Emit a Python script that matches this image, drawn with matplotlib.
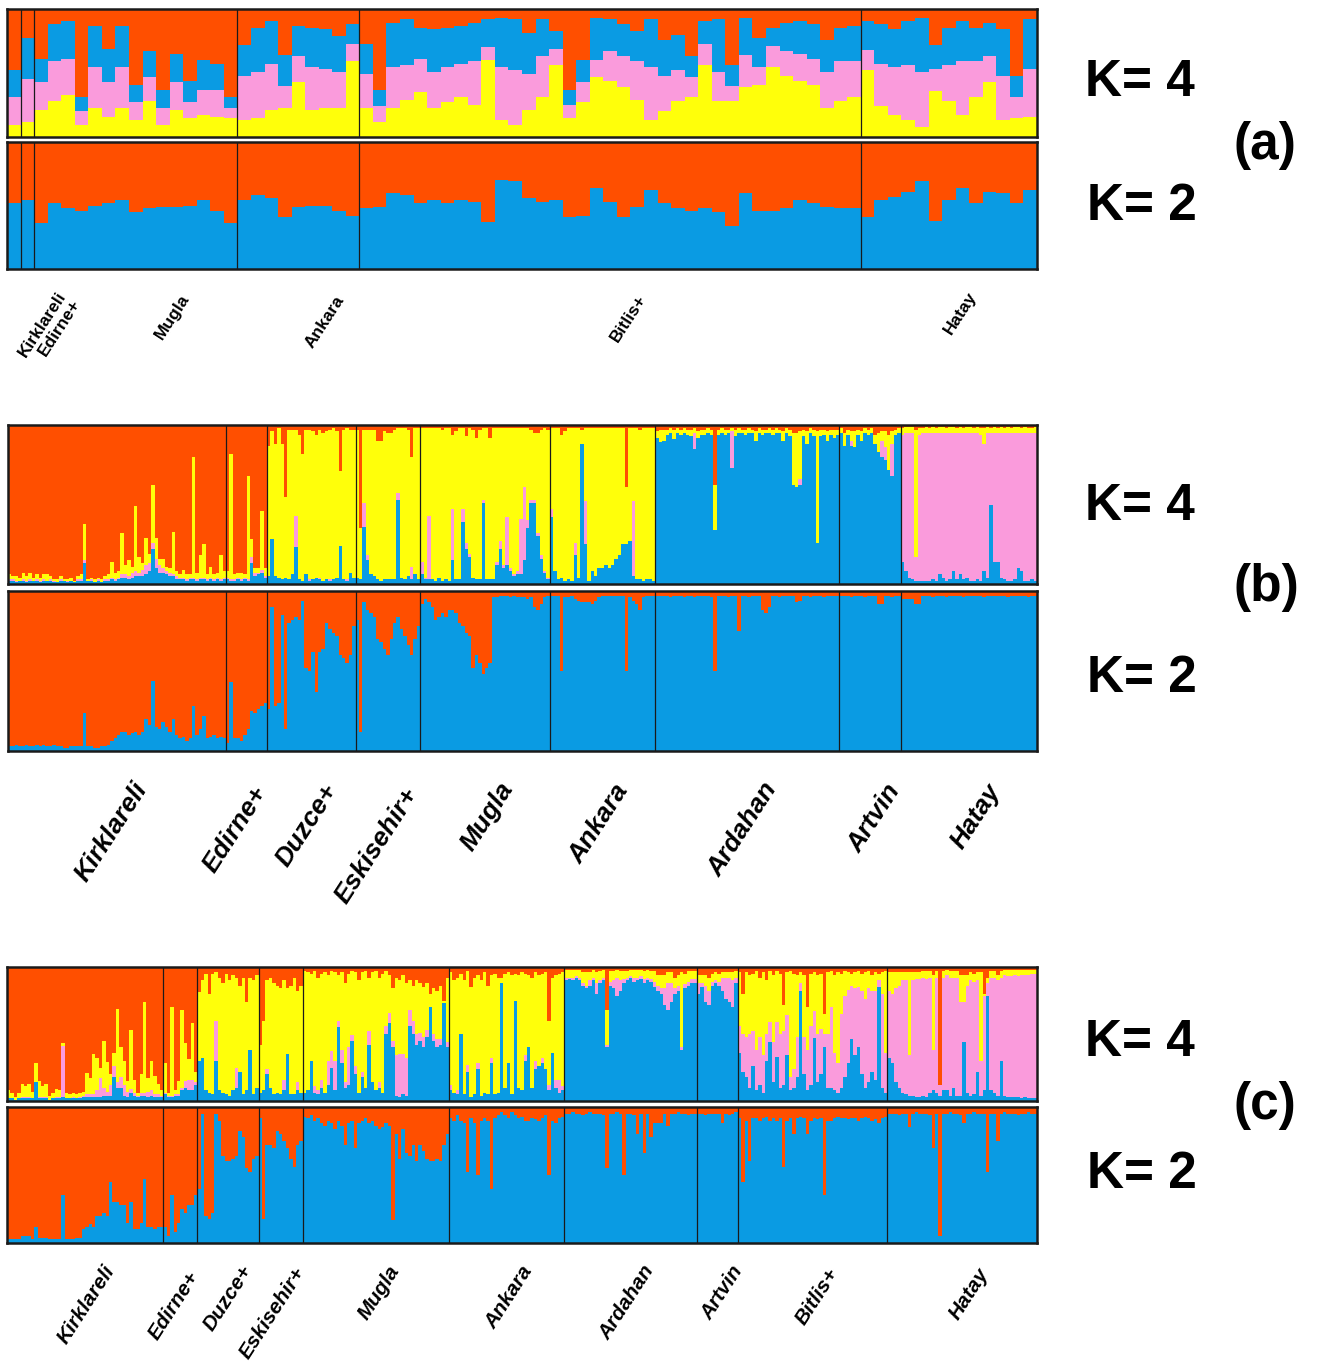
import numpy as np
from matplotlib import pyplot as plt

ORANGE = '#FF4F00'
BLUE = '#0A9BE3'
YELLOW = '#FFFF0A'
PINK = '#FA9BDC'

W, H = 1318, 1365

# ---------------- panel (a) ----------------
a_pops = ['Kirklareli', 'Edirne+', 'Mugla', 'Ankara', 'Bitlis+', 'Hatay']
a_sizes = [1, 1, 15, 9, 37, 13]
a4_yellow = [9, 12,
             21, 28, 33, 9, 23, 16, 23, 13, 28, 9, 21, 15, 17, 16, 15,
             13, 15, 21, 23, 43, 21, 23, 23, 59,
             23, 12, 23, 29, 35, 23, 27, 31, 25, 60, 13, 9, 21, 31, 56, 15, 27, 47, 44, 39, 29, 13,
             20, 28, 31, 56, 28, 28, 39, 41, 55, 48, 44, 41, 23, 28, 31,
             52, 24, 17, 13, 8, 36, 28, 17, 31, 43, 13, 15, 16]
a4_pink = [22, 33,
           22, 31, 28, 11, 32, 27, 32, 14, 19, 14, 22, 12, 20, 21, 8,
           35, 36, 36, 17, 20, 34, 30, 28, 14,
           26, 12, 32, 27, 26, 28, 28, 26, 34, 10, 42, 43, 28, 32, 13, 10, 16, 13, 23, 24, 30, 42,
           28, 24, 16, 17, 23, 12, 25, 14, 16, 19, 21, 20, 28, 31, 28,
           16, 33, 38, 43, 43, 17, 28, 42, 28, 20, 35, 16, 37]
a4_blue = [21, 32,
           18, 29, 30, 11, 32, 26, 32, 14, 20, 14, 22, 17, 23, 20, 8,
           24, 34, 34, 24, 24, 30, 31, 28, 15,
           24, 13, 34, 36, 24, 33, 30, 30, 30, 22, 38, 40, 32, 29, 14, 12, 17, 33, 25, 25, 24, 37,
           28, 28, 16, 18, 41, 16, 29, 22, 14, 22, 26, 27, 25, 26, 28,
           23, 31, 29, 35, 42, 19, 29, 32, 26, 26, 36, 17, 39]
a2_blue = [52, 54,
           36, 52, 48, 46, 50, 52, 54, 45, 48, 49, 49, 50, 54, 46, 36,
           54, 58, 56, 41, 49, 50, 50, 46, 42,
           48, 49, 60, 58, 52, 54, 52, 54, 53, 37, 70, 69, 56, 53, 54, 41, 42, 64, 53, 41, 49, 62,
           52, 48, 46, 48, 45, 34, 60, 46, 46, 48, 54, 52, 49, 48, 48,
           41, 54, 57, 61, 69, 38, 54, 64, 52, 61, 60, 52, 62]

# ---------------- panel (b) ----------------
b_pops = ['Kirklareli', 'Edirne+', 'Duzce+', 'Eskisehir+', 'Mugla', 'Ankara',
          'Ardahan', 'Artvin', 'Hatay']
b_sizes = [64, 12, 26, 19, 38, 31, 54, 18, 40]
b4_blue = [
    2, 2, 1, 2, 2, 1, 2, 2, 2, 1, 2, 2, 2, 1, 1, 2, 2, 1, 2, 1, 2, 2, 13, 2, 2, 1, 2, 1, 2, 2,
    3, 2, 3, 4, 4, 3, 4, 5, 5, 5, 6, 8, 22, 10, 7, 7, 6, 5, 5, 3, 3, 3, 2, 3, 3, 2, 3, 3, 2, 3,
    2, 3, 2, 3,
    3, 2, 2, 3, 2, 3, 2, 13, 5, 6, 7, 4,
    5, 28, 5, 4, 3, 4, 3, 6, 23, 3, 2, 6, 2, 3, 4, 3, 2, 3, 2, 3, 4, 24, 3, 2, 7, 4,
    4, 3, 36, 15, 6, 5, 3, 2, 3, 3, 3, 3, 53, 4, 3, 5, 3, 6, 3,
    6, 3, 3, 3, 2, 4, 2, 3, 2, 15, 3, 3, 39, 22, 17, 4, 3, 3, 51, 3, 3, 3, 12, 22, 10, 12, 8,
    5, 6, 6, 15, 35, 51, 51, 30, 16, 7, 3,
    42, 8, 3, 4, 2, 3, 2, 18, 4, 88, 25, 2, 8, 5, 10, 10, 12, 10, 12, 16, 18, 25, 25, 27, 5,
    3, 3, 2, 3, 3, 2,
    92, 89, 90, 94, 95, 91, 95, 94, 95, 94, 93, 85, 92, 94, 94, 95, 94, 34, 94, 95, 94, 95,
    73, 93, 95, 95, 94, 95, 95, 90, 95, 94, 95, 95, 94, 95, 95, 90, 95, 93, 62, 61, 62, 93,
    88, 95, 93, 26, 93, 94, 90, 94, 92, 94,
    95, 87, 94, 87, 86, 94, 90, 95, 94, 95, 88, 83, 80, 78, 72, 68, 94, 95,
    14, 8, 4, 3, 2, 2, 2, 2, 2, 3, 2, 6, 4, 2, 3, 8, 3, 6, 3, 4, 2, 2, 3, 2, 8, 4, 50, 14, 14,
    4, 3, 2, 2, 3, 10, 8, 2, 2, 3, 2]
b4_pink = [
    1, 1, 1, 0, 1, 1, 1, 0, 1, 1, 1, 0, 1, 1, 0, 1, 0, 1, 0, 0, 1, 1, 2, 0, 1, 0, 1, 0, 1, 1,
    1, 1, 1, 2, 2, 2, 3, 3, 2, 4, 6, 5, 4, 6, 5, 3, 2, 2, 1, 2, 1, 1, 1, 1, 1, 1, 1, 1, 1, 1,
    1, 1, 1, 1,
    1, 1, 1, 1, 1, 1, 1, 4, 2, 1, 2, 1,
    0, 0, 0, 0, 0, 0, 0, 0, 20, 0, 0, 0, 1, 0, 0, 1, 0, 0, 1, 0, 0, 0, 0, 1, 0, 0,
    0, 0, 15, 3, 0, 0, 0, 0, 0, 0, 0, 0, 4, 0, 0, 0, 8, 0, 0,
    8, 1, 40, 0, 0, 0, 0, 0, 0, 32, 0, 0, 8, 4, 2, 0, 0, 0, 2, 0, 0, 0, 2, 5, 2, 30, 2, 1, 2,
    35, 46, 5, 2, 2, 2, 2, 1, 1,
    5, 0, 0, 0, 0, 0, 0, 8, 0, 0, 27, 0, 0, 0, 0, 0, 0, 0, 0, 0, 0, 0, 0, 0, 47, 0, 0, 0, 0,
    0, 0,
    0, 0, 0, 0, 0, 0, 0, 0, 0, 0, 0, 10, 0, 0, 0, 0, 0, 0, 0, 0, 0, 0, 23, 0, 0, 0, 0, 0, 0,
    0, 0, 0, 0, 0, 0, 0, 0, 0, 0, 0, 0, 0, 4, 0, 0, 0, 0, 0, 0, 0, 0, 0, 0, 0,
    0, 0, 0, 3, 0, 0, 0, 0, 0, 0, 0, 0, 10, 8, 0, 20, 0, 0,
    80, 87, 91, 92, 15, 92, 93, 93, 93, 92, 93, 89, 91, 93, 92, 87, 92, 89, 92, 91, 93, 93,
    92, 92, 80, 91, 45, 81, 81, 91, 92, 93, 93, 92, 85, 87, 93, 93, 92, 93]
b4_yellow = [
    3, 2, 3, 2, 4, 3, 4, 2, 3, 2, 3, 4, 2, 1, 2, 2, 1, 1, 2, 1, 2, 3, 23, 1, 1, 2, 1, 2, 2, 3,
    10, 4, 4, 26, 6, 10, 4, 41, 10, 4, 17, 6, 36, 13, 4, 6, 3, 3, 27, 3, 2, 5, 3, 2, 76, 4,
    14, 21, 3, 7, 3, 3, 15, 4,
    4, 79, 3, 3, 4, 2, 65, 11, 3, 3, 37, 5,
    82, 68, 83, 94, 85, 51, 94, 91, 54, 91, 80, 91, 94, 93, 90, 93, 93, 93, 94, 95, 92, 47,
    94, 95, 90, 93,
    93, 32, 46, 79, 91, 92, 87, 88, 93, 92, 92, 94, 41, 94, 95, 92, 69, 92, 95,
    84, 94, 55, 95, 96, 94, 95, 95, 96, 47, 93, 95, 51, 67, 79, 93, 89, 94, 45, 95, 89, 95,
    84, 71, 86, 56, 88, 92, 90, 57, 37, 58, 44, 42, 63, 79, 90, 93,
    51, 90, 95, 90, 94, 95, 96, 72, 94, 9, 46, 96, 90, 93, 88, 88, 86, 88, 86, 82, 80, 73,
    36, 71, 46, 95, 94, 96, 95, 95, 96,
    4, 8, 7, 3, 3, 6, 3, 3, 3, 3, 4, 3, 4, 3, 3, 3, 3, 28, 3, 3, 3, 2, 2, 4, 3, 2, 3, 3, 2, 6,
    3, 3, 2, 3, 3, 3, 2, 6, 3, 4, 33, 34, 30, 4, 8, 3, 4, 70, 4, 3, 6, 3, 5, 3,
    3, 8, 3, 6, 10, 3, 6, 3, 3, 3, 6, 12, 6, 10, 22, 8, 3, 3,
    4, 4, 4, 4, 80, 4, 3, 4, 3, 4, 3, 4, 4, 3, 4, 4, 3, 4, 3, 4, 4, 3, 4, 4, 10, 4, 3, 4, 3,
    4, 3, 4, 3, 4, 4, 3, 4, 3, 3, 4]
b2_blue = [
    3, 3, 4, 3, 3, 4, 3, 3, 4, 3, 4, 3, 3, 4, 3, 3, 2, 2, 3, 3, 3, 3, 24, 3, 3, 2, 2, 3, 3, 4,
    6, 8, 10, 12, 12, 10, 11, 12, 10, 12, 20, 16, 44, 15, 14, 18, 15, 12, 20, 10, 8, 9, 6, 8,
    28, 10, 14, 22, 8, 9, 10, 8, 9, 8,
    5, 43, 8, 8, 6, 10, 14, 25, 24, 26, 28, 30,
    26, 90, 28, 30, 85, 14, 80, 82, 84, 82, 94, 52, 50, 62, 37, 62, 64, 80, 76, 74, 72, 60,
    58, 55, 60, 78,
    82, 12, 93, 88, 86, 84, 70, 68, 64, 60, 70, 80, 84, 76, 72, 66, 60, 70, 78,
    92, 95, 93, 90, 82, 84, 86, 84, 88, 88, 86, 80, 78, 74, 72, 52, 60, 55, 48, 52, 55, 96,
    96, 97, 97, 97, 96, 97, 96, 96, 96, 95, 96, 90, 88, 92, 96, 97,
    97, 97, 97, 50, 96, 96, 97, 95, 94, 93, 93, 93, 92, 94, 96, 97, 97, 97, 97, 97, 97, 97,
    50, 96, 94, 92, 88, 96, 97, 97, 97,
    97, 97, 97, 97, 96, 97, 97, 97, 96, 97, 97, 96, 97, 97, 97, 97, 96, 50, 97, 97, 97, 96,
    97, 97, 75, 97, 97, 96, 97, 97, 97, 88, 86, 90, 97, 97, 96, 97, 97, 97, 97, 93, 94, 97,
    97, 96, 97, 97, 97, 96, 97, 97, 97, 97,
    97, 97, 97, 96, 97, 97, 97, 96, 97, 97, 97, 92, 92, 97, 97, 96, 97, 97,
    95, 95, 95, 95, 92, 92, 97, 97, 97, 96, 97, 97, 97, 96, 97, 97, 97, 97, 96, 97, 97, 97,
    97, 97, 96, 97, 97, 97, 97, 97, 97, 96, 97, 97, 97, 97, 97, 96, 97, 97]

# ---------------- panel (c) ----------------
c_pops = ['Kirklareli', 'Edirne+', 'Duzce+', 'Eskisehir+', 'Mugla', 'Ankara',
          'Ardahan', 'Artvin', 'Bitlis+', 'Hatay']
c_sizes = [46, 10, 18, 13, 43, 34, 39, 12, 44, 44]
c4_blue = [
    2, 2, 1, 2, 2, 2, 2, 2, 14, 2, 2, 2, 1, 2, 2, 2, 3, 2, 2, 2, 2, 2, 3, 3, 3, 3, 3, 3, 4, 4,
    4, 18, 10, 10, 4, 3, 6, 4, 3, 4, 4, 3, 4, 3, 3, 3,
    5, 3, 3, 4, 4, 8, 10, 8, 8, 12,
    30, 32, 8, 6, 5, 30, 8, 6, 5, 4, 8, 10, 22, 5, 8, 38, 5, 10,
    6, 8, 20, 10, 5, 6, 5, 8, 35, 5, 5, 8, 6,
    6, 8, 30, 6, 5, 10, 6, 12, 25, 8, 55, 28, 10, 12, 45, 20, 6, 18, 10, 42, 14, 8, 10, 6,
    50, 58, 40, 4, 3, 5, 4, 56, 50, 42, 45, 40, 48, 70, 45, 40, 42, 73, 40,
    8, 6, 5, 50, 5, 22, 3, 5, 24, 4, 6, 5, 28, 5, 6, 88, 10, 28, 5, 75, 10, 8, 30, 40, 10,
    24, 26, 28, 24, 8, 36, 10, 6, 8,
    90, 91, 90, 92, 90, 86, 84, 86, 90, 80, 88, 90, 40, 86, 84, 78, 82, 88, 90, 92, 89, 90,
    91, 88, 90, 89, 85, 82, 80, 72, 68, 74, 80, 82, 38, 84, 86, 88, 88,
    80, 85, 74, 72, 86, 88, 86, 82, 76, 74, 70, 88,
    36, 22, 18, 10, 26, 8, 12, 6, 30, 44, 14, 33, 10, 12, 34, 8, 10, 18, 82, 20, 8, 12, 47,
    14, 20, 40, 10, 10, 8, 6, 10, 18, 28, 46, 34, 40, 20, 10, 14, 22, 16, 85, 10, 6,
    32, 28, 14, 10, 6, 5, 4, 4, 3, 3, 4, 3, 6, 8, 6, 4, 8, 8, 4, 10, 4, 4, 44, 6, 4, 5, 22,
    4, 8, 78, 8, 6, 4, 30, 4, 3, 3, 3, 3, 2, 3, 2, 2, 2]
c4_pink = [
    0, 0, 0, 0, 1, 1, 1, 0, 0, 1, 1, 1, 0, 0, 1, 1, 38, 0, 0, 1, 0, 1, 1, 2, 2, 2, 5, 14, 6,
    3, 8, 8, 4, 8, 8, 4, 3, 2, 1, 2, 2, 4, 4, 2, 2, 1,
    1, 1, 1, 1, 1, 2, 5, 8, 8, 2,
    0, 0, 0, 0, 0, 30, 0, 0, 0, 0, 0, 15, 0, 0, 0, 0, 0, 0,
    0, 0, 4, 0, 0, 0, 0, 8, 0, 0, 0, 6, 0,
    0, 0, 0, 5, 3, 6, 0, 18, 12, 22, 5, 10, 4, 28, 4, 6, 0, 4, 0, 10, 0, 0, 4, 0, 6, 8, 5,
    30, 32, 30, 28, 12, 10, 8, 6, 8, 5, 0, 5, 6, 4, 0, 4,
    4, 0, 3, 0, 0, 5, 0, 0, 4, 0, 0, 0, 4, 0, 0, 0, 0, 0, 0, 0, 0, 0, 4, 0, 0, 6, 0, 4, 0,
    4, 0, 6, 10, 3,
    2, 1, 2, 1, 2, 2, 2, 4, 2, 8, 2, 2, 2, 3, 6, 14, 8, 3, 2, 1, 3, 2, 2, 3, 2, 2, 4, 4, 4,
    12, 20, 14, 4, 4, 2, 3, 3, 3, 3,
    8, 3, 12, 10, 3, 2, 3, 10, 16, 18, 20, 4,
    20, 28, 30, 40, 26, 30, 36, 28, 20, 15, 30, 26, 40, 40, 30, 10, 14, 30, 6, 28, 30, 44,
    20, 36, 34, 10, 40, 60, 28, 22, 55, 60, 55, 40, 50, 45, 62, 66, 70, 60, 66, 5, 70, 30,
    50, 52, 70, 76, 84, 85, 30, 86, 88, 88, 88, 88, 86, 30, 86, 8, 84, 86, 88, 82, 88, 70,
    30, 80, 86, 84, 68, 26, 70, 10, 84, 86, 86, 62, 90, 90, 90, 91, 90, 92, 91, 92, 93, 93]
c4_yellow = [
    6, 4, 2, 4, 10, 8, 10, 5, 14, 12, 8, 10, 3, 4, 6, 5, 2, 4, 3, 3, 3, 3, 3, 16, 12, 30, 24,
    8, 35, 22, 8, 10, 55, 22, 18, 8, 44, 10, 2, 14, 68, 10, 22, 14, 8, 4,
    22, 2, 66, 3, 10, 58, 28, 15, 42, 8,
    51, 58, 87, 74, 90, 36, 84, 82, 90, 86, 86, 67, 64, 87, 66, 54, 85, 84,
    36, 52, 66, 82, 83, 80, 79, 74, 49, 81, 87, 68, 80,
    91, 88, 65, 86, 84, 79, 90, 64, 60, 66, 34, 58, 74, 55, 48, 70, 84, 74, 87, 40, 82, 89,
    78, 89, 41, 28, 39, 58, 55, 59, 56, 22, 26, 40, 37, 37, 35, 10, 34, 36, 40, 2, 48,
    84, 84, 84, 45, 85, 70, 82, 87, 66, 86, 90, 81, 62, 90, 86, 4, 85, 68, 89, 20, 84, 88,
    61, 54, 82, 66, 68, 63, 72, 48, 56, 78, 79, 85,
    6, 6, 6, 5, 6, 8, 10, 6, 6, 8, 7, 6, 26, 8, 7, 6, 7, 6, 5, 5, 6, 6, 5, 6, 6, 6, 8, 8, 10,
    10, 8, 8, 8, 8, 56, 8, 8, 6, 6,
    6, 6, 8, 10, 6, 6, 6, 4, 4, 4, 6, 5,
    40, 30, 48, 44, 43, 59, 44, 62, 40, 38, 50, 38, 45, 20, 32, 79, 71, 46, 8, 46, 32, 39,
    29, 44, 41, 15, 46, 27, 58, 68, 30, 19, 13, 9, 12, 12, 13, 20, 13, 12, 14, 5, 16, 61,
    14, 16, 12, 10, 6, 6, 62, 6, 5, 5, 5, 6, 5, 56, 5, 0, 5, 4, 5, 5, 5, 20, 20, 8, 6, 6, 6,
    66, 2, 4, 5, 5, 4, 5, 4, 5, 5, 4, 5, 4, 4, 4, 3, 3]
c2_blue = [
    3, 3, 3, 3, 5, 5, 5, 3, 12, 4, 4, 4, 3, 3, 3, 3, 35, 3, 3, 3, 4, 4, 10, 12, 14, 12, 20,
    20, 22, 20, 45, 30, 30, 28, 28, 15, 30, 10, 10, 15, 47, 12, 12, 10, 12, 12,
    12, 5, 35, 8, 15, 25, 22, 28, 28, 35,
    40, 95, 20, 18, 22, 95, 90, 64, 60, 60, 62, 64, 82, 78, 55, 52, 62, 64,
    92, 18, 72, 72, 70, 82, 80, 75, 70, 62, 56, 72, 75,
    93, 92, 94, 90, 92, 88, 86, 90, 88, 84, 90, 86, 72, 88, 90, 70, 88, 90, 92, 88, 90, 86,
    84, 85, 88, 86, 17, 80, 62, 84, 66, 64, 72, 60, 72, 68, 62, 60, 60, 62, 60, 72, 80,
    92, 90, 94, 90, 88, 52, 92, 88, 50, 90, 92, 90, 40, 92, 94, 96, 94, 92, 96, 94, 92, 93,
    90, 90, 92, 91, 90, 92, 94, 50, 90, 88, 92, 93,
    95, 95, 96, 95, 95, 94, 95, 96, 95, 95, 95, 94, 55, 95, 95, 96, 95, 50, 95, 95, 94, 80,
    95, 66, 95, 78, 88, 88, 88, 95, 86, 95, 95, 96, 95, 95, 94, 95, 95,
    95, 95, 94, 95, 95, 95, 95, 88, 95, 94, 95, 96,
    92, 45, 90, 60, 92, 92, 90, 92, 93, 90, 92, 90, 92, 56, 90, 92, 80, 92, 93, 92, 80, 90,
    92, 91, 92, 35, 90, 90, 92, 93, 92, 92, 91, 92, 92, 90, 92, 93, 92, 90, 91, 88, 92, 93,
    95, 95, 95, 94, 95, 95, 85, 95, 96, 95, 95, 95, 94, 70, 95, 5, 95, 95, 96, 95, 95, 94,
    88, 95, 95, 96, 95, 95, 95, 52, 95, 95, 75, 95, 96, 95, 95, 95, 94, 95, 95, 96, 95, 95]


def px_rect(x0, y0, x1, y1):
    return [x0 / W, 1 - y1 / H, (x1 - x0) / W, (y1 - y0) / H]


def stack(ax, layers, colors, sizes):
    n = len(layers[0])
    x = np.arange(n)
    bottom = np.zeros(n)
    for vals, col in zip(layers, colors):
        v = np.array(vals, dtype=float) / 100
        ax.bar(x, v, width=1.0, bottom=bottom, color=col, linewidth=0, align='edge')
        bottom += v
    ax.bar(x, np.clip(1 - bottom, 0, None), width=1.0, bottom=bottom,
           color=ORANGE, linewidth=0, align='edge')
    for b in np.cumsum(sizes)[:-1]:
        ax.axvline(b, color='#1a1a1a', lw=0.9)
    ax.set_xlim(0, n)
    ax.set_ylim(0, 1)
    ax.set_xticks([])
    ax.set_yticks([])
    for s in ax.spines.values():
        s.set_linewidth(1.8)
        s.set_color('#1a1a1a')


def fig_text(fig, x, y, s, **kw):
    fig.text(x / W, 1 - y / H, s, **kw)


fig = plt.figure(figsize=(W / 100, H / 100), dpi=100)
plt.rcParams['font.family'] = ['Liberation Sans', 'DejaVu Sans']

# (a)
ax = fig.add_axes(px_rect(7, 9, 1037, 137))
stack(ax, [a4_yellow, a4_pink, a4_blue], [YELLOW, PINK, BLUE], a_sizes)
ax = fig.add_axes(px_rect(7, 142, 1037, 269))
stack(ax, [a2_blue], [BLUE], a_sizes)

# (b)
ax = fig.add_axes(px_rect(8, 425, 1037, 584))
stack(ax, [b4_blue, b4_pink, b4_yellow], [BLUE, PINK, YELLOW], b_sizes)
ax = fig.add_axes(px_rect(8, 591, 1037, 751))
stack(ax, [b2_blue], [BLUE], b_sizes)

# (c)
ax = fig.add_axes(px_rect(7, 967, 1037, 1101))
stack(ax, [c4_blue, c4_pink, c4_yellow], [BLUE, PINK, YELLOW], c_sizes)
ax = fig.add_axes(px_rect(7, 1107, 1037, 1243))
stack(ax, [c2_blue], [BLUE], c_sizes)

# K labels and panel letters
big = dict(fontsize=37, fontweight='bold', va='center', ha='left')
for (yk4, yl, yk2, letter) in [(82, 145, 207, '(a)'), (507, 588, 678, '(b)'),
                               (1042, 1105, 1175, '(c)')]:
    fig_text(fig, 1085, yk4, 'K= 4', **big)
    fig_text(fig, 1087, yk2, 'K= 2', **big)
    fig_text(fig, 1234, yl, letter, **big)

# population names
a_ends = [(56, 289), (71, 297), (180, 292), (335, 293), (637, 292), (967, 289)]
b_ends = [(132, 778), (252, 782), (322, 780), (403, 783), (498, 778), (613, 780),
          (762, 778), (885, 780), (985, 780)]
c_ends = [(103, 1262), (187, 1268), (240, 1262), (293, 1264), (388, 1262), (520, 1262),
          (642, 1262), (731, 1262), (826, 1265), (977, 1265)]
for names, ends, fs, st in [(a_pops, a_ends, 12.5, 'normal'), (b_pops, b_ends, 19, 'italic'),
                            (c_pops, c_ends, 15, 'italic')]:
    for name, (x, y) in zip(names, ends):
        fig_text(fig, x, y, name, fontsize=fs, fontweight='bold', style=st,
                 rotation=57, rotation_mode='anchor', ha='right', va='top')

fig.savefig('out.png', dpi=100)
